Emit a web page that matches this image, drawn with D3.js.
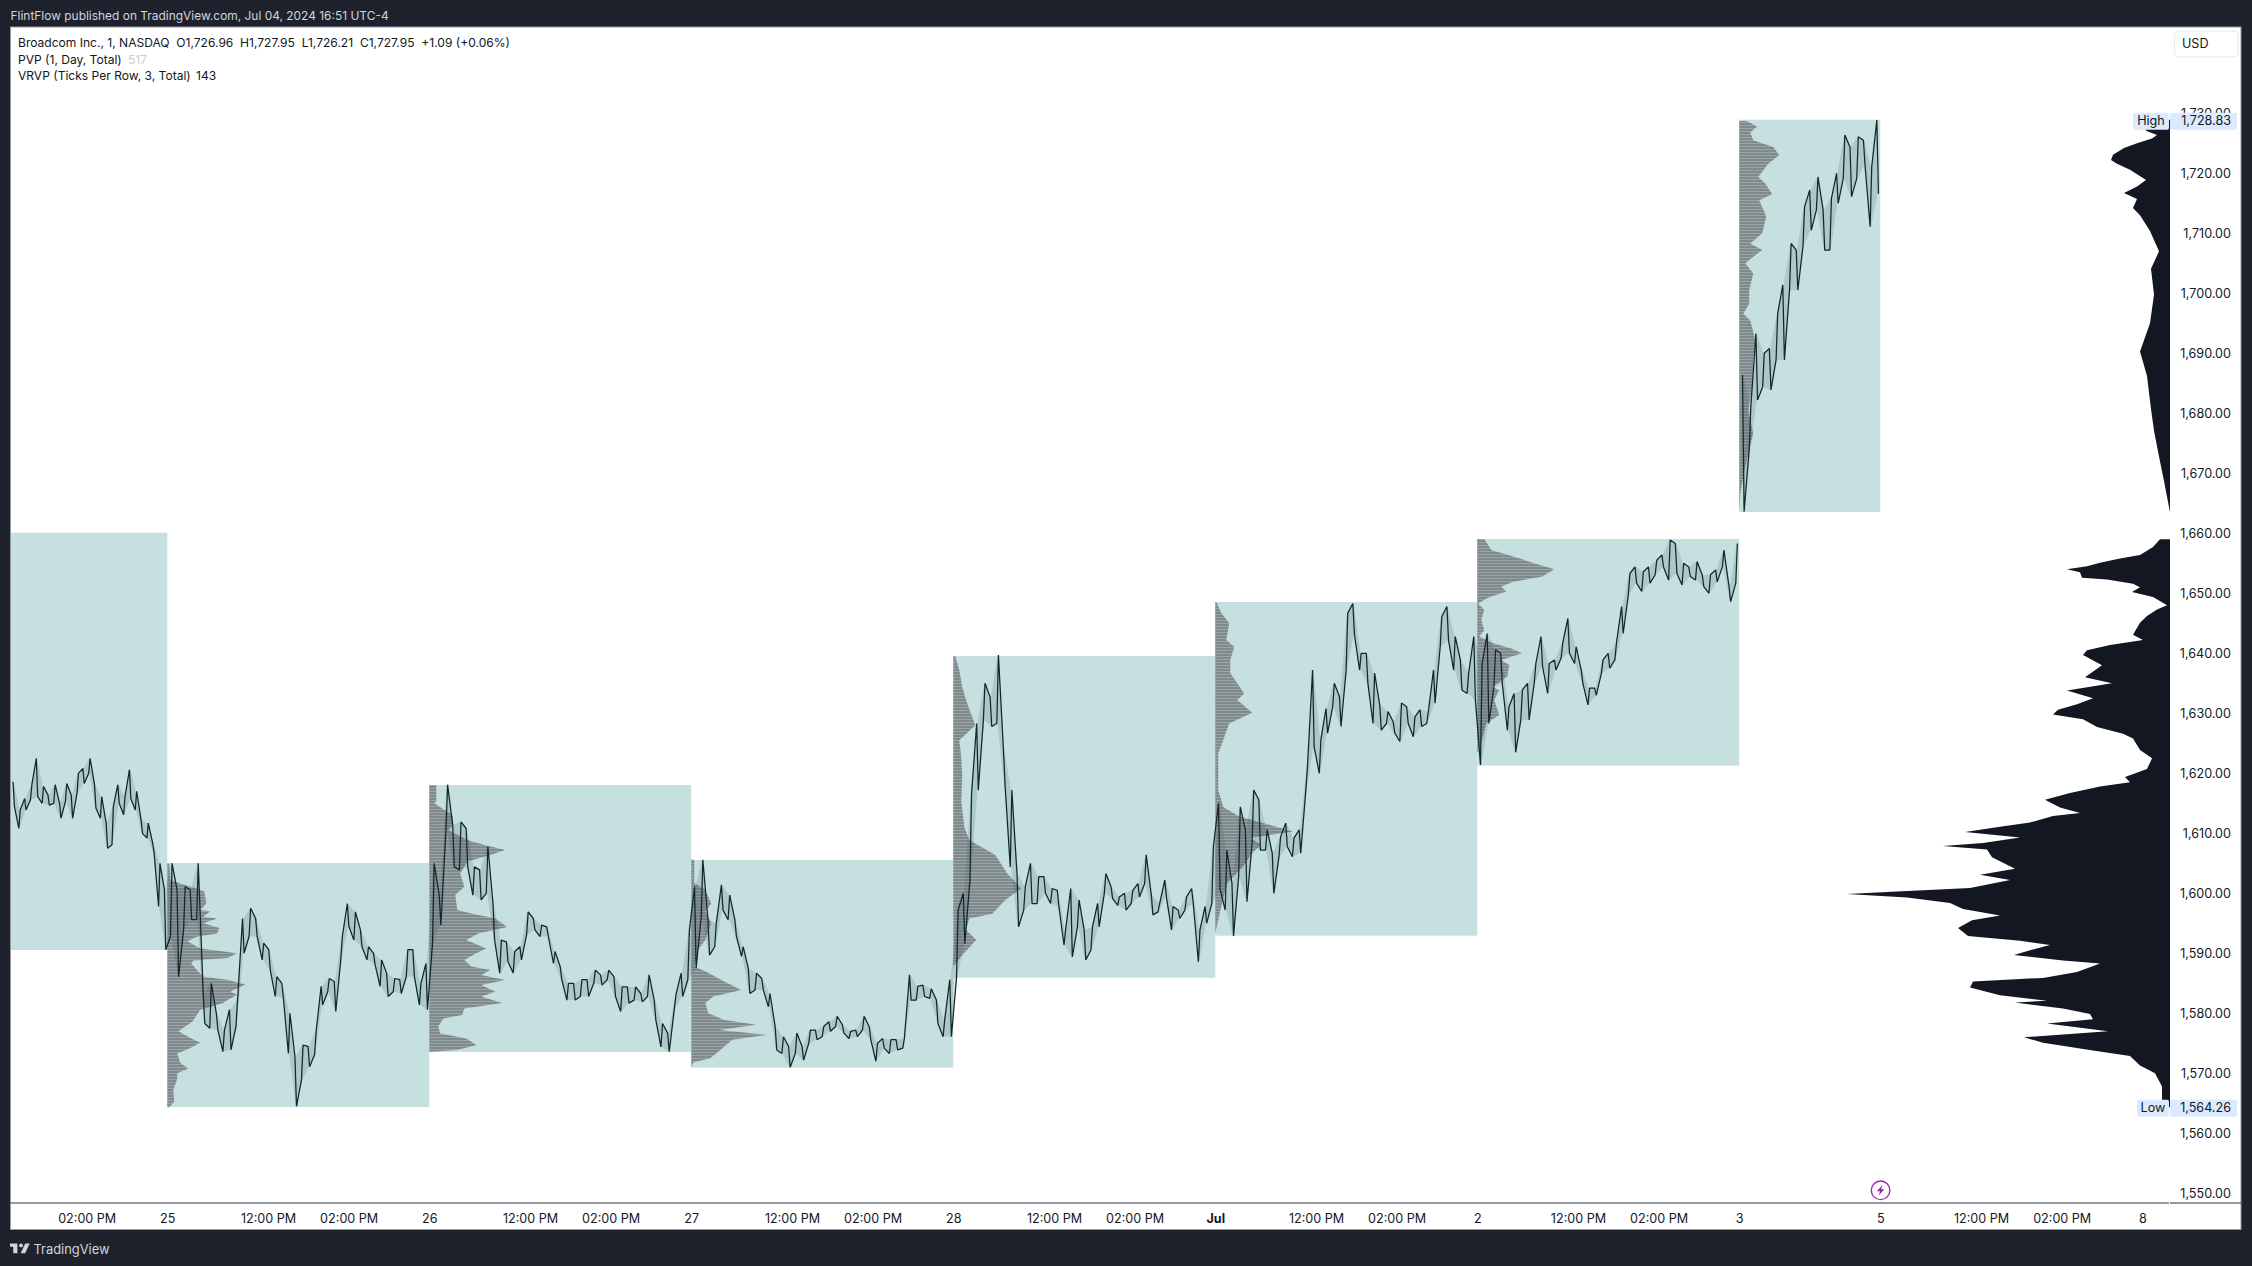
<!DOCTYPE html>
<html><head><meta charset="utf-8">
<script src="https://cdn.jsdelivr.net/npm/d3@7/dist/d3.min.js"></script>
<style>html,body{margin:0;padding:0;background:#1e222d;overflow:hidden}svg{display:block}text{font-family:Inter,"Noto Sans",sans-serif}</style>
</head><body><svg id="c" width="2252" height="1266"></svg>
<script>
// ---------- chart values ----------
const sessionStarts=[0,390,780,1170,1560,1950,2340,2730];
const sessionEnds=[390,780,1170,1560,1950,2340,2730,2940];
const firstVisibleBar=156;
const blockHigh=[1660,1604.95,1617.95,1605.45,1639.45,1648.45,1658.95,1728.83];
const blockLow=[1590.45,1564.26,1573.45,1570.83,1585.83,1592.83,1621.17,1663.45];

const hi1=[1618.5,1613.8,1615.7,1618,1622.4,1617.7,1616.3,1618,1614.9,1618.2,1616.3,1619.9,1620.7,1622.4,1618,1616,1611.6,1614.4,1618,1616,1620.5,1616.9,1612.1,1611.6,1608.2,1604.9,1600.5];
const lo1=[1614.4,1610.7,1613.8,1615.5,1616,1614.9,1614.6,1614.9,1612.4,1615.2,1612.4,1616.6,1618.2,1619.9,1614.1,1612.4,1607.4,1608,1614.9,1613,1615.7,1613.8,1609.9,1609.1,1606.6,1597.7,1590.5];
const hi2=[1604.9,1600.5,1601,1600.5,1604.9,1583.2,1584.9,1579.9,1577.1,1580.5,1582.1,1595.7,1597.4,1595.7,1591.6,1590.5,1586,1584.9,1579.9,1572.7,1574.6,1574.4,1576.9,1584.4,1585.7,1585.2,1592.7,1598.2,1596.8,1593.8,1591,1589.9,1588.8,1586.6,1585.7,1585.5,1590.5,1590.5,1584.9,1588.2];
const lo2=[1592.7,1586,1593.8,1595.5,1595.5,1578.2,1577.4,1577.1,1573.5,1573.8,1577.7,1589.9,1592.7,1592.7,1588.8,1587.1,1582.7,1582.4,1573.2,1564.4,1568.8,1571,1573,1581.3,1583.5,1580.2,1588.8,1594.4,1592.1,1591,1588.8,1588,1584.4,1582.7,1583.5,1583.2,1586,1586,1581.3,1580.5];
const hi3=[1604.9,1599.6,1618,1611.3,1611.8,1610.7,1604.3,1603.8,1607.7,1598.2,1592.1,1591.8,1590.2,1591,1596.8,1595.7,1594.6,1594.3,1590.2,1587.7,1584.9,1584.9,1585.5,1585.5,1587.1,1586.3,1587.1,1586,1584.3,1584.3,1584.3,1583.2,1586.3,1582.1,1578.2,1576.6,1583,1586.6,1593.8];
const lo3=[1591.6,1594.6,1610.5,1604.3,1603.8,1604.3,1599.6,1598.8,1599.9,1592.1,1586.6,1588.5,1586.6,1588.8,1593,1593.8,1592.7,1592.7,1588.2,1585.5,1582.1,1582.1,1582.7,1582.7,1584.9,1584.6,1585.5,1582.7,1580.2,1581.6,1582.1,1581.8,1582.7,1578.8,1574.3,1573.5,1580.7,1582.7,1585.5];
const hi4=[1601,1605.5,1595.5,1594.9,1601.3,1599.6,1595.5,1591,1587.4,1586.6,1585.7,1583.2,1577.7,1576,1574.4,1576.6,1574.4,1577.1,1577.1,1577.7,1578.5,1579.4,1578,1576.9,1577.1,1579.4,1577.7,1574.9,1575.7,1575.5,1575.5,1575.7,1586.3,1584.4,1584.6,1584,1582.1,1578.8,1585.5];
const lo4=[1587.4,1596,1589.6,1591,1597.1,1595.5,1592.7,1589.4,1583.2,1583.8,1583.8,1581,1573.8,1573.2,1570.9,1573.2,1572.1,1574.9,1575.5,1576,1576.9,1577.7,1576.6,1575.7,1576,1577.1,1575.5,1571.9,1574.1,1573.2,1573.8,1574.1,1582.1,1582.1,1582.7,1582.4,1578.2,1576,1576];
const hi5=[1597.1,1599.9,1616.5,1628.2,1634.9,1632.6,1639.6,1623.5,1617.1,1603.2,1601,1604.9,1602.7,1602.7,1600.7,1600.4,1593.8,1600.7,1598.8,1593.8,1594.3,1598.2,1603.2,1601,1599.3,1599.9,1600.4,1601.5,1606.3,1599.6,1598.2,1602.1,1597.7,1597.1,1599.3,1600.7,1593.8,1597.7,1607.7];
const lo5=[1585.8,1591.5,1602.1,1617.1,1628.8,1627.7,1628.2,1617.7,1604.3,1594.3,1597.1,1598.2,1598.2,1599.9,1598.2,1597.7,1591.3,1589.3,1594.3,1588.8,1590.4,1594.3,1599.9,1599,1597.9,1597.1,1598.2,1599.3,1601.5,1596.3,1596.8,1599.3,1593.8,1595.7,1597.1,1598.2,1588.5,1594.9,1598.2];
const hi6=[1614.9,1607.1,1601.6,1614.3,1610.5,1617.1,1615.5,1610.5,1606.6,1609.3,1611.6,1609.1,1610.5,1621,1637.1,1625.5,1630.7,1634.9,1632.7,1646.6,1648.2,1639.9,1639.9,1636.6,1631.3,1630.2,1628.5,1631.6,1631,1629.3,1630.5,1630.2,1637.1,1646,1647.7,1642.7,1638.8,1636.6,1642.7];
const lo6=[1600.5,1597.1,1592.8,1602.7,1598.5,1608.2,1607.1,1607.1,1599.9,1606,1607.7,1606,1606.6,1617.1,1624.3,1619.9,1626.6,1631,1627.7,1637.1,1643,1637.1,1634.9,1628.2,1627.1,1628.2,1626.6,1625.2,1628.2,1626,1627.7,1628.2,1631.6,1641,1642.1,1637.1,1633.8,1633.2,1632.1];
const hi7=[1638.2,1643.2,1640.5,1639.9,1631,1633.2,1633.8,1634.9,1638.2,1642.7,1638.2,1638.8,1641.6,1645.7,1641,1637.1,1634.1,1634.1,1638.8,1639.9,1641.6,1647.7,1653.2,1654.3,1653.5,1654.3,1655.4,1656.3,1658.8,1658.2,1654.9,1654.3,1655.2,1653,1653,1653.8,1657.1,1651,1658.2];
const lo7=[1621.3,1628.2,1634.3,1634.9,1627.1,1623.4,1628.8,1628.8,1634.9,1637.7,1633.2,1637.1,1639.1,1639.9,1638.2,1634.9,1631.3,1632.9,1636.6,1637.4,1638.8,1643.2,1649.6,1651.6,1650.2,1651.6,1653,1654.3,1652.1,1653.2,1651.3,1652.7,1652.1,1651,1649.9,1651.8,1654.3,1648.5,1651.6];
const hi8=[1686.3,1681,1693.2,1689.9,1690.7,1696.5,1701.3,1708.2,1707.1,1714.3,1717.1,1719.3,1713.8,1715.7,1719.9,1726.3,1724.3,1726,1725.4,1721,1728.8];
const lo8=[1663.5,1673.8,1682.1,1684.3,1683.8,1688.8,1688.8,1700.4,1700.4,1707.7,1710.4,1713.8,1707.1,1707.1,1714.9,1719,1716,1719,1721.3,1711,1716.5];

// session volume profiles (price level, relative volume)
const pvpPrice2=[1604.9,1602.1,1601.9,1600.5,1600.2,1598.2,1597.1,1596.9,1596,1595.7,1594.9,1594.1,1593.2,1592.7,1591.9,1590.7,1589.9,1589.1,1588.7,1588.2,1587.4,1586,1585.5,1584.7,1583.5,1583,1582.1,1581.6,1580.5,1578.5,1576.9,1575.8,1575,1574.1,1573.2,1571.6,1570.7,1569.9,1569,1567.1,1565.2,1564.26];
const pvpVol2=[2,3,6,33,37,39,33,43,36,50,36,52,50,30,20,33,70,60,26,24,28,36,60,78,63,70,60,56,33,25,11,23,33,23,10,13,21,10,10,6,7,2];
const pvpPrice3=[1617.95,1615.2,1614.9,1612.95,1611.3,1610.45,1608.8,1607.95,1607.1,1606.3,1605.2,1603.2,1601,1599.6,1597.1,1596.55,1595.7,1594.3,1593.2,1592.1,1590.7,1589.9,1588.8,1587.7,1587.1,1586.3,1585.45,1584.6,1583.5,1582.7,1581.6,1580.7,1579.6,1579.05,1577.7,1576.55,1575.7,1574.6,1573.8,1573.5];
const pvpVol3=[7,7,5,23,24,19,38,55,76,61,38,31,35,26,28,42,66,78,49,37,57,47,35,42,61,52,76,52,66,52,73,35,33,14,9,11,37,47,28,1];
const pvpPrice4=[1605.5,1601.6,1600.5,1598.2,1596.9,1594.9,1592.1,1590.5,1587.7,1586.9,1585.2,1583.8,1582.7,1581.6,1579.9,1578.8,1578,1577.1,1576.3,1575.5,1573.8,1572.4,1571.7,1570.83];
const pvpVol4=[3,3,14,20,14,20,14,7,3,14,33,50,22,14,17,33,65,28,76,41,29,19,2,0];
const pvpPrice5=[1639.45,1637.1,1634.3,1631.5,1627.9,1625.4,1622.7,1619.3,1615.4,1611,1608.8,1606.3,1603.2,1600.7,1598.8,1596.5,1595.7,1593.8,1592.1,1589.6,1587.9];
const pvpVol5=[2,6,9,14,22,6,8,9,8,11,16,42,54,68,52,39,16,13,23,9,1];
const pvpPrice6=[1648.45,1646.6,1644.9,1642.1,1641,1638.8,1636.6,1633.2,1632.1,1630,1628.2,1625.5,1623.2,1617.1,1614.3,1612.7,1610.2,1609.1,1608,1606.6,1604.4,1601.6,1597.7,1593.2];
const pvpVol6=[1,6,14,11,19,15,15,29,22,37,14,8,3,3,8,24,78,35,46,37,28,12,6,0];
const pvpPrice7=[1658.95,1657.1,1656,1654.9,1653.9,1652.7,1651.8,1651,1650.2,1649.1,1648.2,1647.1,1645.5,1643.8,1642.7,1641.6,1640.7,1639.9,1638.8,1637.95,1636,1634.3,1633.8,1632.1,1629.6,1628.2,1624.9,1623.2];
const pvpVol7=[7,14,37,57,77,65,35,24,29,10,1,7,4,7,2,15,34,45,24,32,30,15,22,17,22,9,4,0];
const pvpPrice8=[1728.6,1727.7,1726.7,1725.4,1724.3,1722.9,1721.5,1719.3,1718.2,1716.4,1715.4,1712.7,1709.9,1708.2,1707.1,1706,1704.9,1703.2,1700.4,1698.2,1696.5,1695.4,1692.1,1688.8,1684.3,1680.4,1676.5,1671,1666.5,1663.45];
const pvpVol8=[7,18,11,14,34,40,29,19,26,33,20,27,23,11,23,14,6,14,10,10,4,11,16,14,13,9,14,6,1,0];

// visible range volume profile (price level, relative volume)
const vrvpPrice=[1728.83,1727,1726.3,1725.7,1724.9,1724.1,1723,1722.1,1721.5,1720.5,1718.8,1717.7,1716.6,1715.6,1714.1,1712.9,1710.3,1706.9,1704,1699.7,1694.9,1690.2,1686.1,1680.6,1677,1672.7,1668.6,1663.4];
const vrvpVol=[24,24,13,18,33,46,57,59,53,40,24,33,46,33,37,30,20,11,19,16,20,30,23,19,16,11,6,0];
const vrvpPrice2=[1658.9,1657.6,1656.3,1655.7,1655,1654.4,1653.9,1653.4,1652.5,1652.2,1651.5,1650.9,1650.1,1649.3,1647.9,1647.2,1646.1,1645,1643,1642.1,1641.3,1640.4,1639.6,1637.9,1635.9,1634.9,1633.7,1632.4,1631.4,1630.5,1629.7,1628.9,1627.6,1626.5,1625.7,1623.8,1622.4,1620.6,1619.3,1618.4,1617.7,1616.6,1615.5,1614.2,1613.3,1612.8,1611.7,1611,1610.1,1609.2,1608.3,1607.8,1607.2,1605.9,1604,1603,1602.1,1600.8,1600.2,1599.8,1599.2,1598.3,1597.3,1596.2,1595.4,1594.1,1592.8,1592,1591.3,1590.4,1589.6,1588.7,1588.2,1586.8,1585.8,1585.2,1584.2,1582.9,1582,1581.7,1580.7,1579.8,1578.9,1578.2,1576.9,1575.9,1575,1573.7,1572.8,1571.2,1569.9,1567.7,1564.26];
const vrvpVol2=[10,17,30,50,70,83,103,90,88,63,37,30,38,17,3,13,23,30,37,27,60,83,87,68,85,58,103,77,93,112,117,87,73,47,37,30,18,23,45,40,70,100,125,110,90,117,140,170,205,150,187,227,183,178,155,190,160,200,273,323,263,220,207,170,198,212,202,150,120,140,156,107,70,93,127,197,200,170,123,155,107,80,77,123,62,146,127,77,40,30,15,8,8];

const priceTicks=d3.range(1550,1731,10);
const timeTickBars=[270,390,540,660,780,930,1050,1170,1320,1440,1560,1710,1830,1950,2100,2220,2340,2490,2610,2730,2940,3090,3210,3330];
const timeTickLabels=["02:00 PM","25","12:00 PM","02:00 PM","26","12:00 PM","02:00 PM","27","12:00 PM","02:00 PM","28","12:00 PM","02:00 PM","Jul","12:00 PM","02:00 PM","2","12:00 PM","02:00 PM","3","5","12:00 PM","02:00 PM","8"];

const headerText="FlintFlow published on TradingView.com, Jul 04, 2024 16:51 UTC-4";
const legendRow1="Broadcom Inc., 1, NASDAQ  O1,726.96  H1,727.95  L1,726.21  C1,727.95  +1.09 (+0.06%)";

// ---------- drawing ----------
const svg=d3.select("#c");
const W=2252,H=1266,frame={l:10.5,t:27,r:2241,b:1229.5},axisX=2170,axisY=1203;
const y=d3.scaleLinear().domain([1550,1730]).range([1192.7,112.7]);
const x=d3.scaleLinear().domain([0,3330]).range([-94,2143]);
const volX=d3.scaleLinear().domain([0,1]).range([0,1]);

const defs=svg.append("defs");
defs.append("clipPath").attr("id","plot").append("rect").attr("x",frame.l+.5).attr("y",frame.t).attr("width",axisX-frame.l).attr("height",axisY-frame.t);
const pat=defs.append("pattern").attr("id","stripe").attr("patternUnits","userSpaceOnUse").attr("width",4).attr("height",3);
pat.append("rect").attr("width",4).attr("height",3).attr("fill","#9aa6a7");
pat.append("rect").attr("width",4).attr("height",2).attr("fill","#808a8d");

svg.append("rect").attr("width",W).attr("height",H).attr("fill","#1e222d");
svg.append("rect").attr("x",frame.l).attr("y",frame.t).attr("width",frame.r-frame.l).attr("height",frame.b-frame.t).attr("fill","#fff").attr("stroke","#9598a1").attr("stroke-width",1);

const plot=svg.append("g").attr("clip-path","url(#plot)");

// session blocks
plot.selectAll("rect.block").data(sessionStarts).join("rect").attr("class","block")
  .attr("x",d=>x(d)-.7).attr("width",(d,i)=>x(sessionEnds[i])-x(d))
  .attr("y",(d,i)=>y(blockHigh[i])).attr("height",(d,i)=>y(blockLow[i])-y(blockHigh[i]))
  .attr("fill","#c6e0e0");

// session profiles
const profiles=[[1,pvpPrice2,pvpVol2],[2,pvpPrice3,pvpVol3],[3,pvpPrice4,pvpVol4],[4,pvpPrice5,pvpVol5],[5,pvpPrice6,pvpVol6],[6,pvpPrice7,pvpVol7],[7,pvpPrice8,pvpVol8]];
profiles.forEach(([s,ps,vs])=>{
  const x0=x(sessionStarts[s])-.7;
  const area=d3.area().y(d=>y(d[0])).x0(x0).x1(d=>x0+volX(d[1]));
  plot.append("path").attr("d",area(ps.map((p,i)=>[p,vs[i]]))).attr("fill","url(#stripe)");
});

// VRVP
const vrvpArea=d3.area().y(d=>y(d[0])).x0(axisX).x1(d=>axisX-volX(d[1]));
[[vrvpPrice,vrvpVol],[vrvpPrice2,vrvpVol2]].forEach(([ps,vs])=>{
  plot.append("path").attr("d",vrvpArea(ps.map((p,i)=>[p,vs[i]]))).attr("fill","#131722");
});

// price trace: range band plus near-vertical strokes, session by session
const groups=[[[hi1,lo1],[hi2,lo2],[hi3,lo3],[hi4,lo4],[hi5,lo5],[hi6,lo6],[hi7,lo7]],[[hi8,lo8]]];
const line=d3.line().x(d=>x(d[0])).y(d=>y(d[1]));
const band=d3.area().x(d=>x(d.c)).y0(d=>y(d.lo)).y1(d=>y(d.hi));
let sIdx=0;
groups.forEach(g=>{
  const pts=[],bins=[];
  g.forEach(([h,l])=>{
    const s=sIdx++,a=s===0?firstVisibleBar:sessionStarts[s],b=sessionEnds[s],st=(b-a)/h.length;
    h.forEach((v,i)=>{
      const c=a+(i+.5)*st,q=st*.12;
      bins.push({c,hi:v,lo:l[i]});
      if(pts.length%4===0){pts.push([c-q,v],[c+q,l[i]]);}
      else{pts.push([c-q,l[i]],[c+q,v]);}
    });
  });
  plot.append("path").attr("d",band(bins)).attr("fill","#2c4a50").attr("opacity",.16);
  plot.append("path").attr("d",line(pts)).attr("fill","none").attr("stroke","#14262b").attr("stroke-width",1.25).attr("stroke-linejoin","bevel");
});

// axes
svg.append("line").attr("x1",frame.l).attr("x2",axisX-1).attr("y1",axisY).attr("y2",axisY).attr("stroke","#2a2e39").attr("stroke-width",1);
svg.append("line").attr("x1",axisX).attr("x2",frame.r).attr("y1",axisY).attr("y2",axisY).attr("stroke","#2a2e39").attr("stroke-width",1);

const yAxis=d3.axisRight(y).tickValues(priceTicks).tickSize(0).tickPadding(0).tickFormat(d3.format(",.2f"));
const gy=svg.append("g").attr("transform","translate(2231,1)").call(yAxis);
gy.select(".domain").remove();
gy.selectAll("text").attr("text-anchor","end").attr("font-size",12.6).attr("font-family","Inter").attr("fill","#131722");

const xAxis=d3.axisBottom(x).tickValues(timeTickBars).tickSize(0).tickPadding(0).tickFormat((d,i)=>timeTickLabels[i]);
const gx=svg.append("g").attr("transform","translate(-0.7,1223)").call(xAxis);
gx.select(".domain").remove();
gx.selectAll("text").attr("dy",0).attr("font-size",12.6).attr("font-family","Inter").attr("fill","#131722")
  .attr("font-weight",(d,i)=>timeTickLabels[i]==="Jul"?700:400);

// high / low tags
function tag(label,val,yv,dy){
  const yc=y(yv)+dy,g=svg.append("g");
  g.append("rect").attr("x",label==="High"?2133:2137).attr("width",label==="High"?36:32).attr("y",yc-8.5).attr("height",17).attr("rx",2).attr("fill","#dbeafe");
  g.append("rect").attr("x",2170).attr("width",67).attr("y",yc-8.5).attr("height",17).attr("rx",2).attr("fill","#dbeafe");
  g.append("text").attr("x",2151+(label==="High"?0:2)).attr("y",yc+.5).attr("text-anchor","middle").attr("dominant-baseline","middle").attr("font-size",12.6).attr("fill","#131722").text(label);
  g.append("text").attr("x",2231).attr("y",yc+.5).attr("text-anchor","end").attr("dominant-baseline","middle").attr("font-size",12.6).attr("fill","#131722").text(val);
}
tag("High","1,728.83",1728.83,1.5);
tag("Low","1,564.26",1564.26,1);

// currency box
svg.append("rect").attr("x",2174.5).attr("y",31).attr("width",63.5).attr("height",26).attr("rx",4).attr("fill","#fff").attr("stroke","#e6e8f0");
svg.append("text").attr("x",2182).attr("y",44.5).attr("dominant-baseline","middle").attr("font-size",12.6).attr("fill","#131722").text("USD");

// header + legend
const T=(xx,yy,s,fs,col)=>svg.append("text").attr("x",xx).attr("y",yy).attr("dominant-baseline","middle").attr("font-size",fs).attr("fill",col).attr("xml:space","preserve").style("white-space","pre").text(s);
T(10.5,17,headerText,11.95,"#d1d4dc");
T(18,44,legendRow1,12.05,"#131722");
T(18,60.5,"PVP (1, Day, Total)",12.05,"#131722");
T(128,60.5,"517",12.05,"#c9cbd1");
T(18,77,"VRVP (Ticks Per Row, 3, Total)",12.05,"#131722");
T(196,77,"143",12.05,"#131722");

// footer
const logo=svg.append("g").attr("transform","translate(10,1243.5) scale(0.82)").attr("fill","#d1d4dc");
logo.append("path").attr("d","M0 0H9V12H4V4H0Z");
logo.append("circle").attr("cx",13.5).attr("cy",2.3).attr("r",2.3);
logo.append("path").attr("d","M18.5 0H24L18.5 12H13Z");
T(33.5,1250,"TradingView",12.9,"#d1d4dc");

// flash icon
const ic=svg.append("g").attr("transform","translate(1880.6,1190.3)");
ic.append("circle").attr("r",9.3).attr("fill","#fff").attr("stroke","#9c27b0").attr("stroke-width",1.4);
ic.append("path").attr("d","M1.8 -5.2 L-3.8 1 H-0.6 L-1.8 5.2 L3.8 -1 H0.6 Z").attr("fill","#9c27b0");
</script></body></html>
